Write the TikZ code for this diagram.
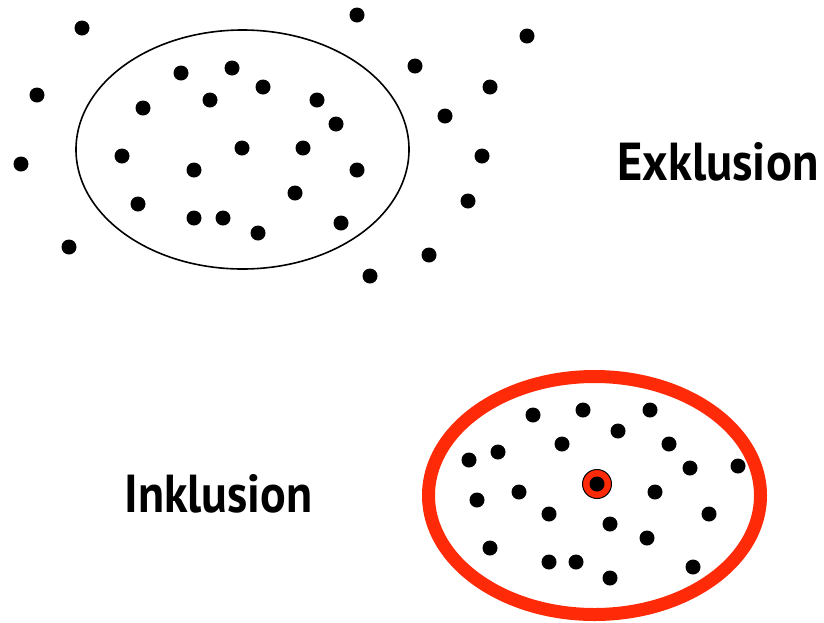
\documentclass[tikz,border=0pt]{standalone}
\usepackage{fontspec}
\usepackage{graphicx}
\setsansfont{PT Sans}
\definecolor{setred}{RGB}{255,42,8}
\tikzstyle{dot}=[circle,fill=black,minimum size=15pt,inner sep=0pt]
\tikzstyle{label}=[inner sep=0pt,font=\sffamily\bfseries]

\begin{document}
\begin{tikzpicture}[x=1pt,y=-1pt]
		\useasboundingbox (0,0) rectangle (824,622);
		
		% Exklusion: set with points inside and outside
		\draw[line width=1.6pt] (242.5,149.5) ellipse (166.5 and 119.5);
		\foreach \x/\y [count=\i] in {82/28, 37/95, 21/164, 69/247, 357/15, 415/66, 527/36,
			490/87, 445/116, 482/156, 468/201, 429/255, 370/276,
			181/73, 232/68, 263/87, 210/100, 143/108, 317/100, 336/124,
			122/156, 242/148, 303/148, 194/170, 357/170, 295/193,
			138/204, 194/218, 223/218, 258/233, 341/223}
			\node[dot] (e\i) at (\x,\y) {};
		\node[label,anchor=base] (ex) at (718,180) {\resizebox{201pt}{38pt}{Exklusion}};
		
		% Inklusion: every point inside, one marked
		\draw[setred,line width=13pt] (594.5,495.5) ellipse (166 and 119);
		\foreach \x/\y [count=\i] in {533/415, 583/410, 650/410, 618/431, 562/444, 669/444,
			469/460, 498/452, 690/468, 738/466, 477/500, 519/492,
			655/492, 549/514, 610/524, 709/514, 647/538, 490/548,
			549/562, 576/562, 610/578, 693/567}
			\node[dot] (i\i) at (\x,\y) {};
		\node[circle,draw=black,fill=setred,line width=1pt,minimum size=29pt,inner sep=0pt] (mark) at (597,484) {};
		\node[dot] (m) at (mark) {};
		\node[label,anchor=base] (in) at (218.5,512) {\resizebox{188pt}{38pt}{Inklusion}};
\end{tikzpicture}
\end{document}
